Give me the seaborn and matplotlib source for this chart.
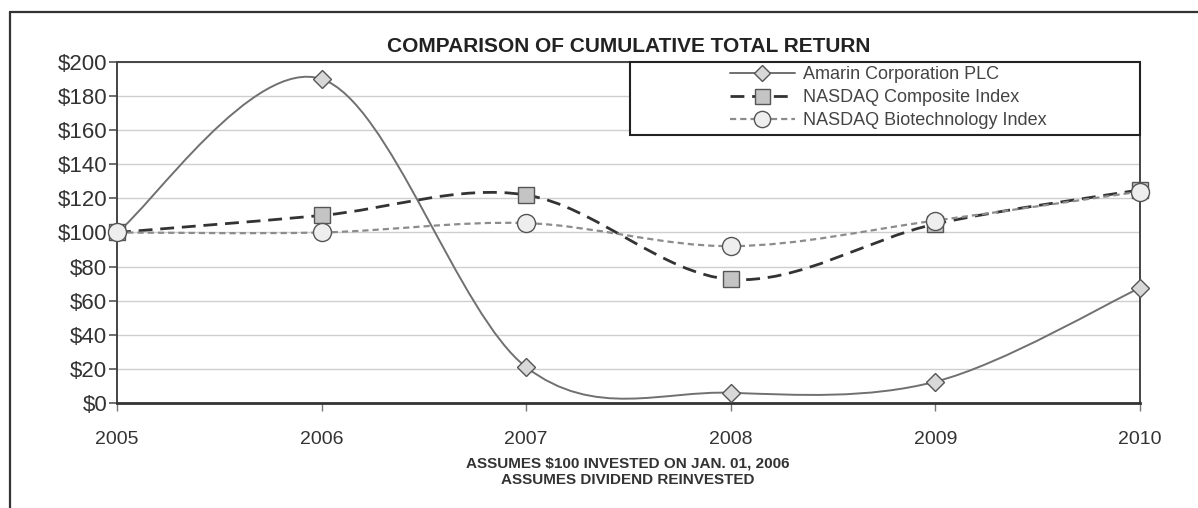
import seaborn as sns
import pandas as pd
import matplotlib
matplotlib.use('Agg')
import matplotlib.pyplot as plt
from matplotlib.path import Path
from matplotlib.patches import PathPatch, Rectangle
from matplotlib.lines import Line2D
#-----------------------------------------------------------------------------------------------------------------------
"""Data"""
years = [2005, 2006, 2007, 2008, 2009, 2010]
amarin = [100, 190, 21, 6, 12.5, 67.5]
nasdaq_comp = [100, 110, 122, 72.5, 105, 125]
nasdaq_bio = [100, 100, 105.5, 92, 107, 124]
series_names = ['Amarin Corporation PLC', 'NASDAQ Composite Index', 'NASDAQ Biotechnology Index']
y_ticks = list(range(0, 201, 20))
y_tick_labels = ['$' + str(v) for v in y_ticks]

df = pd.DataFrame({'year': years * 3,
                   'value': amarin + nasdaq_comp + nasdaq_bio,
                   'series': [series_names[0]] * 6 + [series_names[1]] * 6 + [series_names[2]] * 6})

#-----------------------------------------------------------------------------------------------------------------------
"""Styling"""
sns.set_style('white')
plt.rcParams['font.family'] = ['Liberation Sans', 'DejaVu Sans']

styles = {
    series_names[0]: dict(marker='D', ms=9, mfc='#d8d8d8', mec='#555555', color='#707070', lw=1.4, ls='-'),
    series_names[1]: dict(marker='s', ms=12, mfc='#c4c4c4', mec='#555555', color='#333333', lw=2.0, ls=(0, (5, 2.8))),
    series_names[2]: dict(marker='o', ms=13, mfc='#eeeeee', mec='#555555', color='#8c8c8c', lw=1.6, ls=(0, (2.8, 1.8))),
}


def smooth_path(xs, ys):
    # Excel-like smoothed line (Catmull-Rom as cubic Bezier)
    n = len(xs)
    verts = [(xs[0], ys[0])]
    codes = [Path.MOVETO]
    for i in range(n - 1):
        a = i - 1 if i > 0 else i
        d = i + 2 if i + 2 < n else i + 1
        c1 = (xs[i] + (xs[i + 1] - xs[a]) / 6, ys[i] + (ys[i + 1] - ys[a]) / 6)
        c2 = (xs[i + 1] - (xs[d] - xs[i]) / 6, ys[i + 1] - (ys[d] - ys[i]) / 6)
        verts += [c1, c2, (xs[i + 1], ys[i + 1])]
        codes += [Path.CURVE4] * 3
    return Path(verts, codes)


#-----------------------------------------------------------------------------------------------------------------------
"""Figure"""
fig = plt.figure(figsize=(11.98, 5.08), dpi=100)
ax = fig.add_axes([0.0977, 0.2067, 0.8539, 0.6713])

# grid first
ax.set_yticks(y_ticks)
ax.set_yticklabels(y_tick_labels)
ax.yaxis.grid(True, color='#cfcfcf', lw=1.0)
ax.set_axisbelow(True)

for name in series_names:
    st = styles[name]
    sub = df[df['series'] == name]
    patch = PathPatch(smooth_path(list(sub['year']), list(sub['value'])), fill=False,
                      edgecolor=st['color'], lw=st['lw'], linestyle=st['ls'], zorder=3, clip_on=False)
    ax.add_patch(patch)
    sns.lineplot(data=sub, x='year', y='value', ax=ax, linestyle='', marker=st['marker'],
                 markersize=st['ms'], markerfacecolor=st['mfc'], markeredgecolor=st['mec'],
                 markeredgewidth=1.0, color=st['color'], zorder=4, clip_on=False, legend=False)

ax.set_xlim(2005, 2010)
ax.set_ylim(0, 200)
ax.set_xticks(years)
ax.set_xticklabels([str(y) for y in years])
ax.set_xlabel('')
ax.set_ylabel('')

for side in ['left', 'top', 'right']:
    ax.spines[side].set_color('#444444')
    ax.spines[side].set_linewidth(1.4)
ax.spines['bottom'].set_color('#333333')
ax.spines['bottom'].set_linewidth(2.0)

ax.tick_params(axis='y', direction='out', length=6, width=1.2, color='#555555', pad=1,
               labelsize=16, labelcolor='#333333', left=True)
ax.tick_params(axis='x', direction='out', length=6, width=1.0, color='#777777', pad=14,
               labelsize=14, labelcolor='#333333', bottom=True)

#-----------------------------------------------------------------------------------------------------------------------
"""Title and notes"""
ax.set_title('COMPARISON OF CUMULATIVE TOTAL RETURN', fontsize=15, fontweight='bold',
             color='#222222', pad=7)
fig.text(0.524, 0.087, 'ASSUMES $100 INVESTED ON JAN. 01, 2006', ha='center', va='center',
         fontsize=11, fontweight='bold', color='#333333')
fig.text(0.524, 0.055, 'ASSUMES DIVIDEND REINVESTED', ha='center', va='center',
         fontsize=11, fontweight='bold', color='#333333')

#-----------------------------------------------------------------------------------------------------------------------
"""Legend"""
ax.add_patch(Rectangle((0.5015, 0.786), 0.4985, 0.214, transform=ax.transAxes, facecolor='white',
                       edgecolor='#222222', lw=1.5, zorder=5, clip_on=False))
handles = [Line2D([], [], color=styles[n]['color'], lw=styles[n]['lw'], linestyle=styles[n]['ls'],
                  marker=styles[n]['marker'], markersize=styles[n]['ms'] * 0.9,
                  markerfacecolor=styles[n]['mfc'], markeredgecolor=styles[n]['mec'])
           for n in series_names]
leg = ax.legend(handles, series_names, loc='upper left', bbox_to_anchor=(0.592, 1.008), frameon=False,
                fontsize=13, handlelength=3.6, handletextpad=0.45, labelspacing=0.33, borderaxespad=0)
for t in leg.get_texts():
    t.set_color('#444444')
leg.set_zorder(6)

#-----------------------------------------------------------------------------------------------------------------------
"""Outer frame"""
fig.add_artist(Line2D([0.0085, 1.0], [0.976, 0.976], transform=fig.transFigure, color='#333333', lw=1.6))
fig.add_artist(Line2D([0.0085, 0.0085], [0.0, 0.976], transform=fig.transFigure, color='#333333', lw=1.6))

fig.savefig('out.png', dpi=100)
